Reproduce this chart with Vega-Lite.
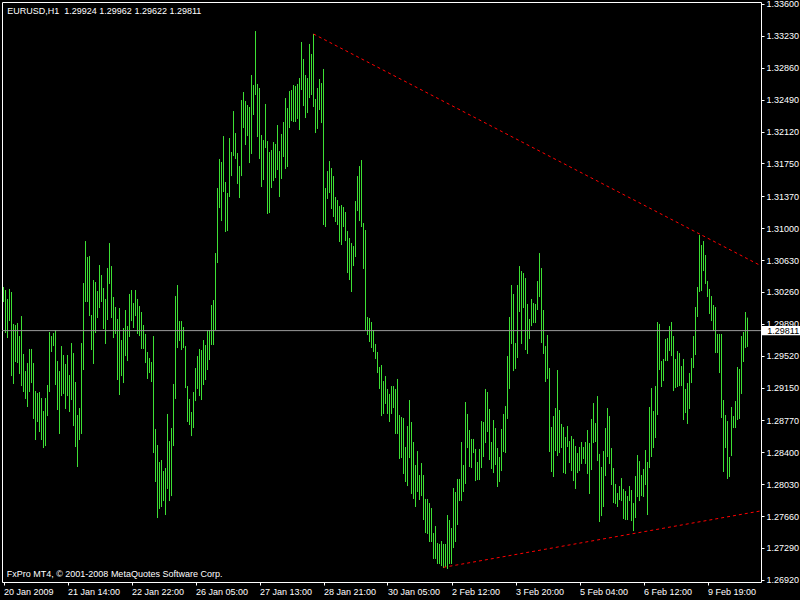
{
"$schema": "https://vega.github.io/schema/vega-lite/v6.json",
"autosize": {"type": "none"},
"width": 759, "height": 580,
"padding": {"left": 2, "top": 2, "right": 39, "bottom": 18},
"background": "black",
"config": {"view": {"stroke": "white", "strokeWidth": 1, "fill": "black"}, "font": "Liberation Sans"},
"datasets": {
"bars": [
{"i":0,"h":1.30317,"l":1.30143},{"i":1,"h":1.30282,"l":1.29783},{"i":2,"h":1.30178,"l":1.29725},{"i":3,"h":1.30294,"l":1.29922},{"i":4,"h":1.30259,"l":1.29284},{"i":5,"h":1.29888,"l":1.29192},{"i":6,"h":1.29876,"l":1.29447},{"i":7,"h":1.29899,"l":1.29435},{"i":8,"h":1.29748,"l":1.29308},{"i":9,"h":1.29980,"l":1.29168},
{"i":10,"h":1.29540,"l":1.29099},{"i":11,"h":1.29342,"l":1.29018},{"i":12,"h":1.29435,"l":1.28925},{"i":13,"h":1.29598,"l":1.29099},{"i":14,"h":1.29598,"l":1.29203},{"i":15,"h":1.29435,"l":1.28786},{"i":16,"h":1.29110,"l":1.28542},{"i":17,"h":1.29087,"l":1.28751},{"i":18,"h":1.29099,"l":1.28635},{"i":19,"h":1.29029,"l":1.28542},
{"i":20,"h":1.28878,"l":1.28449},{"i":21,"h":1.29029,"l":1.28472},{"i":22,"h":1.29180,"l":1.28820},{"i":23,"h":1.29795,"l":1.29099},{"i":24,"h":1.29748,"l":1.29563},{"i":25,"h":1.29783,"l":1.29632},{"i":26,"h":1.29818,"l":1.29180},{"i":27,"h":1.29458,"l":1.28890},{"i":28,"h":1.29342,"l":1.28612},{"i":29,"h":1.29632,"l":1.29052},
{"i":30,"h":1.29528,"l":1.29076},{"i":31,"h":1.29424,"l":1.28902},{"i":32,"h":1.29528,"l":1.29052},{"i":33,"h":1.29296,"l":1.28867},{"i":34,"h":1.29667,"l":1.29006},{"i":35,"h":1.29551,"l":1.28704},{"i":36,"h":1.29215,"l":1.28461},{"i":37,"h":1.28832,"l":1.28229},{"i":38,"h":1.28913,"l":1.28542},{"i":39,"h":1.29667,"l":1.28612},
{"i":40,"h":1.30363,"l":1.29354},{"i":41,"h":1.30850,"l":1.30143},{"i":42,"h":1.30665,"l":1.30143},{"i":43,"h":1.30676,"l":1.29980},{"i":44,"h":1.29992,"l":1.29586},{"i":45,"h":1.30398,"l":1.29424},{"i":46,"h":1.30375,"l":1.29783},{"i":47,"h":1.30270,"l":1.29957},{"i":48,"h":1.30572,"l":1.30073},{"i":49,"h":1.30456,"l":1.30143},
{"i":50,"h":1.30305,"l":1.29830},{"i":51,"h":1.30178,"l":1.29656},{"i":52,"h":1.30537,"l":1.29934},{"i":53,"h":1.30827,"l":1.30352},{"i":54,"h":1.30560,"l":1.29957},{"i":55,"h":1.30201,"l":1.29725},{"i":56,"h":1.30085,"l":1.29772},{"i":57,"h":1.29946,"l":1.29238},{"i":58,"h":1.30073,"l":1.29064},{"i":59,"h":1.29702,"l":1.29284},
{"i":60,"h":1.29841,"l":1.29203},{"i":61,"h":1.30050,"l":1.29516},{"i":62,"h":1.29864,"l":1.29458},{"i":63,"h":1.30236,"l":1.29737},{"i":64,"h":1.30282,"l":1.29922},{"i":65,"h":1.30131,"l":1.29841},{"i":66,"h":1.30282,"l":1.29980},{"i":67,"h":1.30178,"l":1.29772},{"i":68,"h":1.30096,"l":1.29748},{"i":69,"h":1.30027,"l":1.29598},
{"i":70,"h":1.29876,"l":1.29598},{"i":71,"h":1.29772,"l":1.29435},{"i":72,"h":1.29563,"l":1.29250},{"i":73,"h":1.29493,"l":1.29319},{"i":74,"h":1.29447,"l":1.29215},{"i":75,"h":1.29748,"l":1.28391},{"i":76,"h":1.28670,"l":1.28055},{"i":77,"h":1.28484,"l":1.27637},{"i":78,"h":1.28287,"l":1.27742},{"i":79,"h":1.28310,"l":1.27765},
{"i":80,"h":1.28182,"l":1.27834},{"i":81,"h":1.28217,"l":1.27672},{"i":82,"h":1.28844,"l":1.27974},{"i":83,"h":1.28530,"l":1.27834},{"i":84,"h":1.28681,"l":1.27892},{"i":85,"h":1.29192,"l":1.28472},{"i":86,"h":1.30212,"l":1.29018},{"i":87,"h":1.30340,"l":1.29609},{"i":88,"h":1.29922,"l":1.29690},{"i":89,"h":1.29922,"l":1.29586},
{"i":90,"h":1.29853,"l":1.29609},{"i":91,"h":1.29632,"l":1.29145},{"i":92,"h":1.29168,"l":1.28751},{"i":93,"h":1.29018,"l":1.28716},{"i":94,"h":1.28867,"l":1.28588},{"i":95,"h":1.29099,"l":1.28681},{"i":96,"h":1.29377,"l":1.28994},{"i":97,"h":1.29516,"l":1.29134},{"i":98,"h":1.29598,"l":1.29052},{"i":99,"h":1.29586,"l":1.29006},
{"i":100,"h":1.29702,"l":1.29180},{"i":101,"h":1.29644,"l":1.29238},{"i":102,"h":1.29818,"l":1.29354},{"i":103,"h":1.29818,"l":1.29470},{"i":104,"h":1.30108,"l":1.29644},{"i":105,"h":1.30166,"l":1.29644},{"i":106,"h":1.30711,"l":1.29818},{"i":107,"h":1.31465,"l":1.30595},{"i":108,"h":1.31802,"l":1.31233},{"i":109,"h":1.31767,"l":1.31082},
{"i":110,"h":1.32068,"l":1.31419},{"i":111,"h":1.31535,"l":1.30955},{"i":112,"h":1.31407,"l":1.30966},{"i":113,"h":1.32045,"l":1.31361},{"i":114,"h":1.31883,"l":1.31604},{"i":115,"h":1.32358,"l":1.31836},{"i":116,"h":1.32103,"l":1.31802},{"i":117,"h":1.31871,"l":1.31512},{"i":118,"h":1.31720,"l":1.31349},{"i":119,"h":1.32486,"l":1.31604},
{"i":120,"h":1.32579,"l":1.32161},{"i":121,"h":1.32474,"l":1.31964},{"i":122,"h":1.32428,"l":1.32068},{"i":123,"h":1.32405,"l":1.31755},{"i":124,"h":1.32776,"l":1.31860},{"i":125,"h":1.32660,"l":1.32312},{"i":126,"h":1.33286,"l":1.32544},{"i":127,"h":1.32672,"l":1.32057},{"i":128,"h":1.32625,"l":1.31802},{"i":129,"h":1.32080,"l":1.31477},
{"i":130,"h":1.32022,"l":1.31558},{"i":131,"h":1.32440,"l":1.31929},{"i":132,"h":1.32010,"l":1.31164},{"i":133,"h":1.31883,"l":1.31175},{"i":134,"h":1.31906,"l":1.31465},{"i":135,"h":1.31999,"l":1.31546},{"i":136,"h":1.31976,"l":1.31581},{"i":137,"h":1.32196,"l":1.31674},{"i":138,"h":1.31894,"l":1.31361},{"i":139,"h":1.32092,"l":1.31570},
{"i":140,"h":1.32231,"l":1.31825},{"i":141,"h":1.32509,"l":1.31686},{"i":142,"h":1.32393,"l":1.31709},{"i":143,"h":1.32590,"l":1.32161},{"i":144,"h":1.32602,"l":1.32242},{"i":145,"h":1.32660,"l":1.32231},{"i":146,"h":1.32648,"l":1.32231},{"i":147,"h":1.32672,"l":1.32266},{"i":148,"h":1.32741,"l":1.32138},{"i":149,"h":1.33159,"l":1.32602},
{"i":150,"h":1.32962,"l":1.32416},{"i":151,"h":1.32776,"l":1.32277},{"i":152,"h":1.32741,"l":1.32335},{"i":153,"h":1.33136,"l":1.32509},{"i":154,"h":1.33020,"l":1.32544},{"i":155,"h":1.33252,"l":1.32405},{"i":156,"h":1.32498,"l":1.32103},{"i":157,"h":1.32625,"l":1.32150},{"i":158,"h":1.32730,"l":1.32370},{"i":159,"h":1.32683,"l":1.32219},
{"i":160,"h":1.32846,"l":1.31036},{"i":161,"h":1.31465,"l":1.31013},{"i":162,"h":1.31662,"l":1.31338},{"i":163,"h":1.31778,"l":1.31407},{"i":164,"h":1.31697,"l":1.31222},{"i":165,"h":1.31604,"l":1.31129},{"i":166,"h":1.31361,"l":1.31071},{"i":167,"h":1.31326,"l":1.31036},{"i":168,"h":1.31256,"l":1.30839},{"i":169,"h":1.31268,"l":1.30804},
{"i":170,"h":1.31245,"l":1.31013},{"i":171,"h":1.31187,"l":1.30850},{"i":172,"h":1.30966,"l":1.30479},{"i":173,"h":1.30885,"l":1.30398},{"i":174,"h":1.30827,"l":1.30259},{"i":175,"h":1.30792,"l":1.30560},{"i":176,"h":1.31314,"l":1.30665},{"i":177,"h":1.31604,"l":1.31198},{"i":178,"h":1.31720,"l":1.31082},{"i":179,"h":1.31790,"l":1.31013},
{"i":180,"h":1.31059,"l":1.30526},{"i":181,"h":1.30978,"l":1.29818},{"i":182,"h":1.29969,"l":1.29760},{"i":183,"h":1.29957,"l":1.29679},{"i":184,"h":1.29911,"l":1.29609},{"i":185,"h":1.29818,"l":1.29563},{"i":186,"h":1.29656,"l":1.29482},{"i":187,"h":1.29563,"l":1.29319},{"i":188,"h":1.29389,"l":1.29134},{"i":189,"h":1.29412,"l":1.28820},
{"i":190,"h":1.29226,"l":1.28844},{"i":191,"h":1.29284,"l":1.28960},{"i":192,"h":1.29134,"l":1.28844},{"i":193,"h":1.29076,"l":1.28751},{"i":194,"h":1.29168,"l":1.28844},{"i":195,"h":1.29168,"l":1.28913},{"i":196,"h":1.29134,"l":1.28612},{"i":197,"h":1.29250,"l":1.28612},{"i":198,"h":1.28832,"l":1.28322},{"i":199,"h":1.28809,"l":1.28333},
{"i":200,"h":1.28797,"l":1.28148},{"i":201,"h":1.28461,"l":1.28055},{"i":202,"h":1.28704,"l":1.28008},{"i":203,"h":1.29006,"l":1.28333},{"i":204,"h":1.28751,"l":1.27916},{"i":205,"h":1.28519,"l":1.27858},{"i":206,"h":1.28252,"l":1.27765},{"i":207,"h":1.28414,"l":1.27939},{"i":208,"h":1.28136,"l":1.27846},{"i":209,"h":1.28275,"l":1.27892},
{"i":210,"h":1.28136,"l":1.27614},{"i":211,"h":1.27858,"l":1.27463},{"i":212,"h":1.27858,"l":1.27452},{"i":213,"h":1.27811,"l":1.27359},{"i":214,"h":1.27753,"l":1.27359},{"i":215,"h":1.27463,"l":1.27162},{"i":216,"h":1.27544,"l":1.27162},{"i":217,"h":1.27347,"l":1.27104},{"i":218,"h":1.27336,"l":1.27104},{"i":219,"h":1.27370,"l":1.27080},
{"i":220,"h":1.27336,"l":1.27057},{"i":221,"h":1.27336,"l":1.27069},{"i":222,"h":1.27672,"l":1.27046},{"i":223,"h":1.27614,"l":1.27104},{"i":224,"h":1.27521,"l":1.27104},{"i":225,"h":1.27985,"l":1.27289},{"i":226,"h":1.27939,"l":1.27359},{"i":227,"h":1.28090,"l":1.27556},{"i":228,"h":1.28090,"l":1.27834},{"i":229,"h":1.28519,"l":1.27834},
{"i":230,"h":1.28252,"l":1.27939},{"i":231,"h":1.28983,"l":1.28032},{"i":232,"h":1.28844,"l":1.28449},{"i":233,"h":1.28658,"l":1.28229},{"i":234,"h":1.28554,"l":1.28217},{"i":235,"h":1.28554,"l":1.28391},{"i":236,"h":1.28438,"l":1.28066},{"i":237,"h":1.28287,"l":1.28078},{"i":238,"h":1.28438,"l":1.28078},{"i":239,"h":1.28762,"l":1.28217},
{"i":240,"h":1.28751,"l":1.28345},{"i":241,"h":1.29134,"l":1.28507},{"i":242,"h":1.29099,"l":1.28635},{"i":243,"h":1.28902,"l":1.28310},{"i":244,"h":1.28519,"l":1.28206},{"i":245,"h":1.28774,"l":1.28159},{"i":246,"h":1.28681,"l":1.28252},{"i":247,"h":1.28449,"l":1.27997},{"i":248,"h":1.28345,"l":1.28055},{"i":249,"h":1.28670,"l":1.28182},
{"i":250,"h":1.28844,"l":1.28403},{"i":251,"h":1.28936,"l":1.28391},{"i":252,"h":1.29516,"l":1.28786},{"i":253,"h":1.29969,"l":1.29134},{"i":254,"h":1.30340,"l":1.29656},{"i":255,"h":1.30236,"l":1.29342},{"i":256,"h":1.29667,"l":1.29366},{"i":257,"h":1.30340,"l":1.29493},{"i":258,"h":1.30560,"l":1.30027},{"i":259,"h":1.30502,"l":1.29656},
{"i":260,"h":1.30479,"l":1.30073},{"i":261,"h":1.30421,"l":1.29586},{"i":262,"h":1.30120,"l":1.29540},{"i":263,"h":1.29946,"l":1.29714},{"i":264,"h":1.30178,"l":1.29864},{"i":265,"h":1.30131,"l":1.29899},{"i":266,"h":1.30120,"l":1.29899},{"i":267,"h":1.30386,"l":1.30050},{"i":268,"h":1.30711,"l":1.30201},{"i":269,"h":1.30537,"l":1.29667},
{"i":270,"h":1.30050,"l":1.29540},{"i":271,"h":1.29632,"l":1.29215},{"i":272,"h":1.29760,"l":1.29250},{"i":273,"h":1.29377,"l":1.28403},{"i":274,"h":1.28693,"l":1.28171},{"i":275,"h":1.28820,"l":1.28113},{"i":276,"h":1.28913,"l":1.28414},{"i":277,"h":1.29354,"l":1.28356},{"i":278,"h":1.28890,"l":1.28391},{"i":279,"h":1.28728,"l":1.28449},
{"i":280,"h":1.28693,"l":1.28159},{"i":281,"h":1.28577,"l":1.28148},{"i":282,"h":1.28704,"l":1.28461},{"i":283,"h":1.28530,"l":1.28275},{"i":284,"h":1.28588,"l":1.28182},{"i":285,"h":1.28554,"l":1.28066},{"i":286,"h":1.28472,"l":1.27974},{"i":287,"h":1.28391,"l":1.28159},{"i":288,"h":1.28461,"l":1.28182},{"i":289,"h":1.28519,"l":1.28264},
{"i":290,"h":1.28461,"l":1.28322},{"i":291,"h":1.28519,"l":1.28264},{"i":292,"h":1.28658,"l":1.28148},{"i":293,"h":1.28507,"l":1.27916},{"i":294,"h":1.28786,"l":1.28194},{"i":295,"h":1.28971,"l":1.28507},{"i":296,"h":1.28739,"l":1.28519},{"i":297,"h":1.29052,"l":1.28298},{"i":298,"h":1.28380,"l":1.27591},{"i":299,"h":1.28229,"l":1.27660},
{"i":300,"h":1.28414,"l":1.27765},{"i":301,"h":1.28681,"l":1.28124},{"i":302,"h":1.28913,"l":1.28345},{"i":303,"h":1.28820,"l":1.28264},{"i":304,"h":1.28449,"l":1.28020},{"i":305,"h":1.28217,"l":1.27811},{"i":306,"h":1.28032,"l":1.27800},{"i":307,"h":1.27927,"l":1.27765},{"i":308,"h":1.28008,"l":1.27846},{"i":309,"h":1.28101,"l":1.27834},
{"i":310,"h":1.27974,"l":1.27626},{"i":311,"h":1.27950,"l":1.27614},{"i":312,"h":1.27892,"l":1.27614},{"i":313,"h":1.28008,"l":1.27834},{"i":314,"h":1.27962,"l":1.27602},{"i":315,"h":1.27811,"l":1.27486},{"i":316,"h":1.28124,"l":1.27637},{"i":317,"h":1.28368,"l":1.27881},{"i":318,"h":1.28298,"l":1.27834},{"i":319,"h":1.28136,"l":1.27892},
{"i":320,"h":1.28206,"l":1.27881},{"i":321,"h":1.28426,"l":1.28020},{"i":322,"h":1.28287,"l":1.27672},{"i":323,"h":1.28925,"l":1.28217},{"i":324,"h":1.29145,"l":1.28345},{"i":325,"h":1.28878,"l":1.28449},{"i":326,"h":1.29168,"l":1.28565},{"i":327,"h":1.29911,"l":1.28832},{"i":328,"h":1.29888,"l":1.29354},{"i":329,"h":1.29458,"l":1.29157},
{"i":330,"h":1.29482,"l":1.29226},{"i":331,"h":1.29714,"l":1.29458},{"i":332,"h":1.29725,"l":1.29458},{"i":333,"h":1.29864,"l":1.29574},{"i":334,"h":1.29911,"l":1.29516},{"i":335,"h":1.29748,"l":1.29110},{"i":336,"h":1.29482,"l":1.29145},{"i":337,"h":1.29574,"l":1.29157},{"i":338,"h":1.29551,"l":1.29168},{"i":339,"h":1.29400,"l":1.29168},
{"i":340,"h":1.29482,"l":1.28774},{"i":341,"h":1.29134,"l":1.28855},{"i":342,"h":1.29203,"l":1.28728},{"i":343,"h":1.29319,"l":1.28902},{"i":344,"h":1.29493,"l":1.29203},{"i":345,"h":1.29748,"l":1.29377},{"i":346,"h":1.30085,"l":1.29528},{"i":347,"h":1.30317,"l":1.29969},{"i":348,"h":1.30920,"l":1.30259},{"i":349,"h":1.30804,"l":1.30270},
{"i":350,"h":1.30850,"l":1.30502},{"i":351,"h":1.30688,"l":1.30352},{"i":352,"h":1.30386,"l":1.30201},{"i":353,"h":1.30294,"l":1.30004},{"i":354,"h":1.30212,"l":1.29922},{"i":355,"h":1.30108,"l":1.29806},{"i":356,"h":1.30085,"l":1.29551},{"i":357,"h":1.29772,"l":1.29551},{"i":358,"h":1.29772,"l":1.29319},{"i":359,"h":1.29772,"l":1.28797},
{"i":360,"h":1.29006,"l":1.28171},{"i":361,"h":1.28832,"l":1.28449},{"i":362,"h":1.28762,"l":1.28090},{"i":363,"h":1.28345,"l":1.28113},{"i":364,"h":1.28925,"l":1.28356},{"i":365,"h":1.28820,"l":1.28681},{"i":366,"h":1.28994,"l":1.28681},{"i":367,"h":1.29389,"l":1.28774},{"i":368,"h":1.29366,"l":1.28786},{"i":369,"h":1.29748,"l":1.29076},
{"i":370,"h":1.29795,"l":1.29447},{"i":371,"h":1.30027,"l":1.29609},{"i":372,"h":1.29962,"l":1.29622}
],
"trend": [
{"line":"upper","i":155,"p":1.33252},{"line":"upper","i":378.25,"p":1.30569},
{"line":"lower","i":220,"p":1.27065},{"line":"lower","i":378.25,"p":1.27718}
],
"last": [
{"p":1.29811,"t":"1.29811","x1":378.75,"x2":398.25,"y1":1.29865,"y2":1.29757,"i":381.9}
],
"notes": [
{"i":1.9,"p":1.33484,"t":"EURUSD,H1\u00a0\u00a01.29924 1.29962 1.29622 1.29811"},
{"i":1.6,"p":1.26949,"t":"FxPro MT4, © 2001-2008 MetaQuotes Software Corp."}
]
},
"encoding": {
"x": {"type": "quantitative",
"scale": {"domain": [-0.75, 378.75], "nice": false, "zero": false},
"axis": {"orient": "bottom", "values": [0,32,64,96,128,160,192,224,256,288,320,352], "title": null, "grid": false, "domain": false,
"tickColor": "white", "tickSize": 3, "labelColor": "white", "labelFont": "Liberation Sans", "labelFontSize": 9,
"labelAlign": "left", "labelPadding": 2, "labelOverlap": false, "labelFlush": false,
"labelExpr": "['20 Jan 2009','21 Jan 14:00','22 Jan 22:00','26 Jan 05:00','27 Jan 13:00','28 Jan 21:00','30 Jan 05:00','2 Feb 12:00','3 Feb 20:00','5 Feb 04:00','6 Feb 12:00','9 Feb 19:00'][round(datum.value/32)]"}},
"y": {"type": "quantitative",
"scale": {"domain": [1.26895, 1.33623], "nice": false, "zero": false},
"axis": {"orient": "right", "values": [1.336,1.3323,1.3286,1.3249,1.3212,1.3175,1.3137,1.31,1.3063,1.3026,1.2989,1.2952,1.2915,1.2877,1.284,1.2803,1.2766,1.2729,1.2692],
"format": ".5f", "title": null, "grid": false, "domain": false, "tickColor": "white", "tickSize": 3,
"labelColor": "white", "labelFont": "Liberation Sans", "labelFontSize": 9, "labelPadding": 2, "labelOverlap": false, "labelFlush": false, "labelBaseline": "middle"}}
},
"layer": [
{
"data": {"name": "bars"},
"mark": {"type": "rule", "color": "#3de034", "strokeWidth": 1},
"encoding": {
"x": {"field": "i"},
"y": {"field": "h"},
"y2": {"field": "l"}
}
},
{
"data": {"name": "last"},
"mark": {"type": "rule", "color": "#9a9a9a", "strokeWidth": 1},
"encoding": {"x": null, "y": {"field": "p"}}
},
{
"data": {"name": "trend"},
"mark": {"type": "line", "color": "#ff0000", "strokeWidth": 1, "strokeDash": [3, 3]},
"encoding": {
"x": {"field": "i"},
"y": {"field": "p"},
"detail": {"field": "line"}
}
},
{
"data": {"name": "last"},
"mark": {"type": "rect", "fill": "white"},
"encoding": {
"x": {"field": "x1"}, "x2": {"field": "x2"},
"y": {"field": "y1"}, "y2": {"field": "y2"}
}
},
{
"data": {"name": "last"},
"mark": {"type": "text", "color": "black", "font": "Liberation Sans", "fontSize": 9, "align": "left", "baseline": "middle"},
"encoding": {
"x": {"field": "i"},
"y": {"field": "p"},
"text": {"field": "t"}
}
},
{
"data": {"name": "notes"},
"mark": {"type": "text", "color": "white", "font": "Liberation Sans", "fontSize": 9, "align": "left", "baseline": "alphabetic"},
"encoding": {
"x": {"field": "i"},
"y": {"field": "p"},
"text": {"field": "t"}
}
}
]
}
